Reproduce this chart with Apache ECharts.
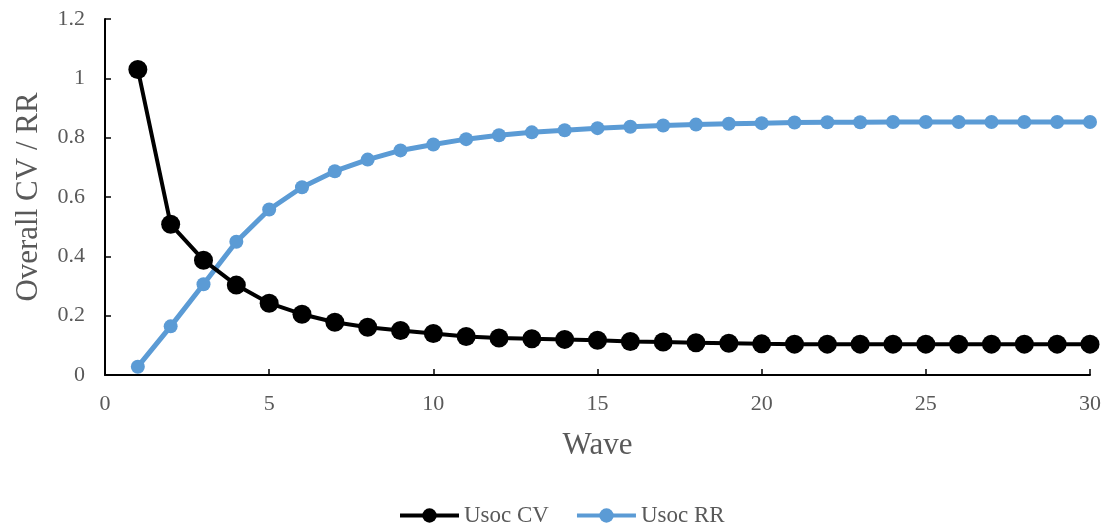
<!DOCTYPE html>
<html><head><meta charset="utf-8">
<script src="https://cdn.jsdelivr.net/npm/echarts@6/dist/echarts.min.js"></script>
<style>html,body{margin:0;padding:0;background:#fff}#c{width:1105px;height:526px}</style>
</head><body><div id="c"></div>
<script>
const waves = Array.from({length:30},(_,i)=>i+1);
const usocCV = [1.03,0.508,0.387,0.303,0.242,0.205,0.178,0.161,0.150,0.140,0.130,0.125,0.122,0.120,0.117,0.113,0.111,0.109,0.107,0.105,0.104,0.104,0.104,0.104,0.104,0.104,0.104,0.104,0.104,0.104];
const usocRR = [0.028,0.164,0.306,0.449,0.558,0.633,0.687,0.726,0.757,0.777,0.795,0.808,0.818,0.825,0.832,0.837,0.841,0.844,0.847,0.849,0.851,0.852,0.852,0.853,0.853,0.853,0.853,0.853,0.853,0.853];
const yTicks = [0,0.2,0.4,0.6,0.8,1,1.2];

const font = 'Liberation Serif';
const gray = '#595959';
const chart = echarts.init(document.getElementById('c'));
chart.setOption({
  animation:false,
  textStyle:{fontFamily:font},
  grid:{left:105,right:15,top:19,bottom:151},
  xAxis:{type:'value',min:0,max:30,interval:5,
    name:'Wave',nameLocation:'middle',nameGap:55,
    nameTextStyle:{fontSize:31,color:gray,fontFamily:font},
    axisLine:{show:true,lineStyle:{color:'#000',width:2}},
    axisTick:{show:true,inside:true,length:6,lineStyle:{color:'#000',width:1.5}},
    axisLabel:{fontSize:22,color:gray,margin:18,fontFamily:font},
    splitLine:{show:false}},
  yAxis:{type:'value',min:0,max:1.2,interval:0.2,
    name:'Overall CV / RR',nameLocation:'middle',nameGap:61,
    nameTextStyle:{fontSize:31,color:gray,fontFamily:font},
    axisLine:{show:true,lineStyle:{color:'#000',width:2}},
    axisTick:{show:true,inside:true,length:6,lineStyle:{color:'#000',width:1.5}},
    axisLabel:{fontSize:22,color:gray,margin:20,fontFamily:font,
      formatter:v=>{const t=yTicks.find(x=>Math.abs(x-v)<1e-9);return String(t!==undefined?t:v);}},
    splitLine:{show:false}},
  legend:{bottom:-6,left:393,itemWidth:59,itemHeight:18,itemGap:26,
    lineStyle:{width:4},
    textStyle:{fontSize:23,color:gray,fontFamily:font},
    data:['Usoc CV','Usoc RR']},
  series:[
    {name:'Usoc CV',type:'line',data:waves.map((w,i)=>[w,usocCV[i]]),
     symbol:'circle',symbolSize:19,color:'#000',
     lineStyle:{color:'#000',width:4},itemStyle:{color:'#000'},z:3},
    {name:'Usoc RR',type:'line',data:waves.map((w,i)=>[w,usocRR[i]]),
     symbol:'circle',symbolSize:14,color:'#5b9bd5',
     lineStyle:{color:'#5b9bd5',width:5},itemStyle:{color:'#5b9bd5'},z:2}
  ]
});
</script></body></html>
